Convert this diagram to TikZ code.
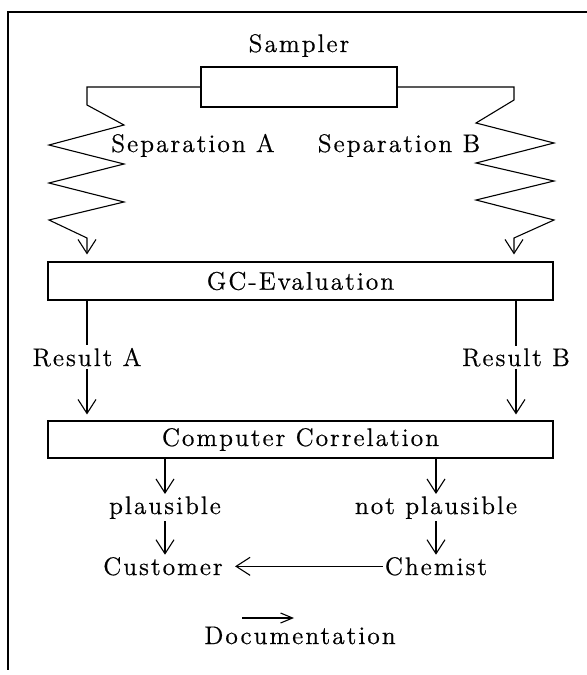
\documentclass[tikz,border=0pt]{standalone}
\usepackage{fontspec}
\setmainfont{Latin Modern Roman}[LetterSpace=8,FakeBold=0.6]
\usetikzlibrary{arrows.meta}
\begin{document}
\begin{tikzpicture}[x=0.5pt,y=-0.5pt,
  every node/.style={font=\fontsize{12.7}{15}\selectfont},
  box/.style={draw, line width=0.55pt, inner sep=0pt},
  lbl/.style={inner sep=1pt, anchor=base},
  ln/.style={line width=0.55pt},
  arr/.style={ln, -{Straight Barb[length=7pt,width=9pt]}},
  smallarr/.style={ln, -{Straight Barb[length=6pt,width=5pt]}},
  frame/.style={line width=0.8pt}]
\useasboundingbox (0,0) rectangle (587,675);
% frame (top and left only)
\draw[frame] (587,12) -- (8,12) -- (8,670);

% sampler
\node[lbl] (samplbl) at (299,52) {Sampler};
\node[box, minimum width=98pt, minimum height=20pt] (samp) at (299,87) {};
\node[lbl] (sepA) at (193,152) {Separation A};
\node[lbl] (sepB) at (399,152) {Separation B};

% boxes
\node[box, minimum width=252.5pt, minimum height=19pt] (gc) at (300.5,281) {GC-Evaluation};
\node[box, minimum width=252.5pt, minimum height=18.5pt] (cc) at (300.5,439.5) {Computer Correlation};

% separation columns (zigzags)
\coordinate (lb) at (87,238);
\coordinate (rb) at (514,238);
\draw[arr, shorten >=3.5pt] (samp.west) -| (87,105) -- (124,125) -- (49,145) -- (124,164)
  -- (49,183) -- (124,202) -- (49,220) -- (lb) -- (lb |- gc.north);
\draw[arr, shorten >=3.5pt] (samp.east) -| (514,100) -- (476,123) -- (554,143) -- (476,163)
  -- (554,181) -- (476,200) -- (554,220) -- (rb) -- (rb |- gc.north);

% results
\node[lbl] (resA) at (87,366) {Result A};
\node[lbl] (resB) at (516,366) {Result B};
\draw[ln] (gc.south -| resA) -- (resA.north);
\draw[arr, shorten >=3pt] (resA.south) -- (cc.north -| resA);
\draw[ln] (gc.south -| resB) -- (resB.north);
\draw[arr, shorten >=3pt] (resB.south) -- (cc.north -| resB);

% decision
\node[lbl] (pl) at (165,514) {plausible};
\node[lbl] (npl) at (436,514) {not plausible};
\node[lbl] (cust) at (163,575) {Customer};
\node[lbl] (chem) at (436,575) {Chemist};
\node[lbl] (doc) at (300,644) {Documentation};

\draw[arr] (cc.south -| pl) -- (pl.north);
\draw[arr] (cc.south -| npl) -- (npl.north);
\draw[arr] (pl.south) -- (pl.south |- cust.north);
\draw[arr] (npl.south) -- (npl.south |- chem.north);
\draw[arr, shorten >=5pt] (chem.west) -- (cust.east);

\coordinate (d1) at (242,618);
\coordinate (d2) at (294,618);
\draw[smallarr] (d1) -- (d2);
\end{tikzpicture}
\end{document}
